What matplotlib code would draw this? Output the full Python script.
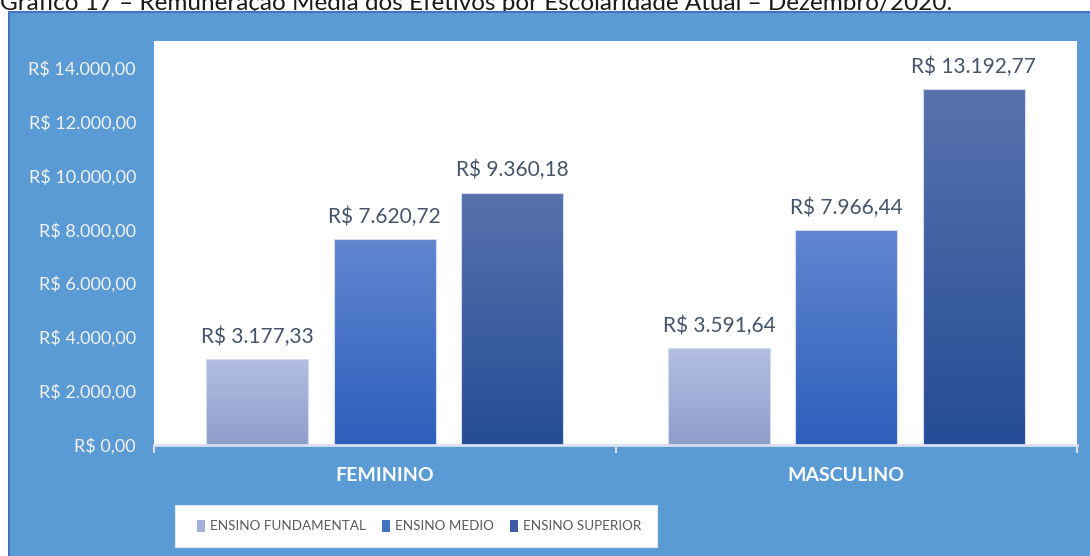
import numpy as np
import matplotlib
matplotlib.use('Agg')
import matplotlib.pyplot as plt
from matplotlib.colors import LinearSegmentedColormap
from matplotlib.patches import Rectangle, Patch
from matplotlib.ticker import FuncFormatter

plt.rcParams['font.family'] = ['Lato', 'DejaVu Sans']

W, H = 1090, 556

categorias = ['FEMININO', 'MASCULINO']
series = ['ENSINO FUNDAMENTAL', 'ENSINO MEDIO', 'ENSINO SUPERIOR']
fundamental = [3177.33, 3591.64]
medio = [7620.72, 7966.44]
superior = [9360.18, 13192.77]
valores = [fundamental, medio, superior]

cores_topo = ['#b2bee2', '#6286d0', '#5872ad']
cores_base = ['#8f9dca', '#2c5fbc', '#254c96']
cores_legenda = ['#a3b0da', '#4472c4', '#3a5ca4']


def brl(v, pos=None):
    # formato brasileiro: R$ 1.234,56
    s = f'{v:,.2f}'.replace(',', 'X').replace('.', ',').replace('X', '.')
    return 'R$ ' + s


fig = plt.figure(figsize=(W / 100, H / 100), dpi=100)
fig.patch.set_facecolor('white')

# titulo cortado no topo da imagem
titulo = fig.text(0, 1 - 10 / H,
                  'Gráfico 17 – Remuneração Média dos Efetivos por Escolaridade Atual – Dezembro/2020.',
                  ha='left', va='baseline', fontsize=15, color='#1a1a1a', zorder=-2)
rend = fig.canvas.get_renderer()
bb = titulo.get_window_extent(rend)
titulo.set_fontsize(15 * 953 / bb.width)

# moldura azul
fig.add_artist(Rectangle((9 / W, -0.05), 1.1, 1 - 12 / H + 0.05, transform=fig.transFigure,
                         facecolor='#5b9bd5', edgecolor='#4472c4', linewidth=1.5, zorder=-1))

ax = fig.add_axes([154 / W, 1 - 445 / H, (1077 - 154) / W, (445 - 41) / H])
ax.set_facecolor('white')

x = np.arange(len(categorias))
desloc = [-0.276, 0, 0.276]
larg = 0.221
grad = np.linspace(0, 1, 256).reshape(-1, 1)

for i, (vals, ct, cb) in enumerate(zip(valores, cores_topo, cores_base)):
    barras = ax.bar(x + desloc[i], vals, larg, facecolor='none', edgecolor='#d4dbf0',
                    linewidth=0.8, zorder=3)
    cmap = LinearSegmentedColormap.from_list(f'g{i}', [cb, ct])
    for b, v in zip(barras, vals):
        bx, bw, bh = b.get_x(), b.get_width(), b.get_height()
        im = ax.imshow(grad, extent=[bx, bx + bw, 0, bh], origin='lower', aspect='auto',
                       cmap=cmap, zorder=2.5)
        im.set_clip_path(b)
        ax.annotate(brl(v), (bx + bw / 2, bh), xytext=(0, 11.5), textcoords='offset points',
                    ha='center', va='baseline', fontsize=15, color='#44546a', zorder=4)

ax.set_xlim(-0.5, 1.5)
ax.set_ylim(0, 14980)

ax.set_xticks(x, categorias)
ax.set_xticks([-0.5, 0.5, 1.5], minor=True)
ax.tick_params(axis='x', which='major', length=0, pad=16, labelsize=14, labelcolor='white')
ax.tick_params(axis='x', which='minor', length=6, width=1.5, color='#d9dfee', direction='out')
for lab in ax.get_xticklabels():
    lab.set_fontweight('bold')

ax.set_yticks(np.arange(0, 14001, 2000))
ax.yaxis.set_major_formatter(FuncFormatter(brl))
ax.tick_params(axis='y', length=0, pad=13, labelsize=13, labelcolor='#f2f2f2')

for s in ['top', 'right', 'left']:
    ax.spines[s].set_visible(False)
ax.spines['bottom'].set_color('#d9dfee')
ax.spines['bottom'].set_linewidth(2)

# caixa da legenda
fig.add_artist(Rectangle((175 / W, 1 - 547 / H), (657 - 175) / W, 42 / H, transform=fig.transFigure,
                         facecolor='white', edgecolor='#dfe6f2', linewidth=0.8, zorder=0.5))
handles = [Patch(facecolor=c, edgecolor='none') for c in cores_legenda]
fig.legend(handles, series, loc='center', bbox_to_anchor=(419 / W, 1 - 526 / H), ncol=3,
           frameon=False, fontsize=9.7, handlelength=0.59, handleheight=0.97,
           handletextpad=0.37, columnspacing=1.19, labelcolor='#595959')

fig.savefig('out.png', dpi=100)
